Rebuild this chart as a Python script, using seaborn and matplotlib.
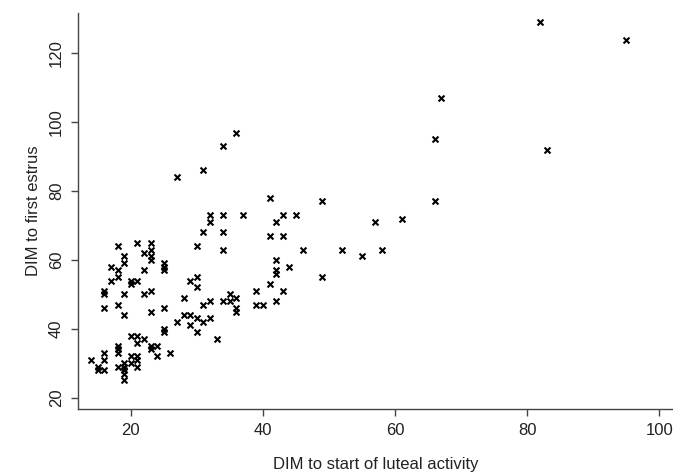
import matplotlib
matplotlib.use("Agg")
import matplotlib.pyplot as plt
import seaborn as sns
import pandas as pd

# DATA (DIM to start of luteal activity, DIM to first estrus)
luteal_start = [
    18, 21, 23, 22, 23, 23, 23, 19, 19, 17, 18, 18, 17, 22, 25, 25, 25, 20, 20, 21,
    16, 16, 19, 22, 23, 16, 18, 19, 23, 25, 27, 25, 25, 20, 21, 22, 21, 23, 24, 23,
    18, 18, 18, 16, 16, 14, 20, 21, 21, 20, 21, 24, 26, 15, 15, 16, 18, 19, 19, 19,
    19, 19,
    31, 34, 30, 34, 29, 30, 30, 28, 31, 32, 34, 35, 35, 36, 36, 36, 28, 29, 30, 31,
    32, 29, 30, 33,
    36, 34, 31, 27, 41, 49, 32, 34, 37, 43, 45, 32, 42, 41, 43, 46, 52, 42, 44, 42,
    42, 49, 41, 39, 43, 42, 39, 40,
    66, 57, 61, 55, 58, 83, 82, 95, 66, 67,
]
first_estrus = [
    64, 65, 65, 62, 63, 61, 60, 61, 59, 58, 57, 55, 54, 57, 59, 58, 57, 54, 53, 54,
    51, 50, 50, 50, 51, 46, 47, 44, 45, 46, 42, 40, 39, 38, 38, 37, 36, 35, 35, 34,
    35, 34, 33, 33, 31, 31, 32, 32, 31, 30, 29, 32, 33, 29, 28, 28, 29, 30, 29, 28,
    27, 25,
    68, 68, 64, 63, 54, 55, 52, 49, 47, 48, 48, 50, 48, 49, 46, 45, 44, 44, 43, 42,
    43, 41, 39, 37,
    97, 93, 86, 84, 78, 77, 73, 73, 73, 73, 73, 71, 71, 67, 67, 63, 63, 60, 58, 57,
    56, 55, 53, 51, 51, 48, 47, 47,
    77, 71, 72, 61, 63, 92, 129, 124, 95, 107,
]
x_ticks = [20, 40, 60, 80, 100]
y_ticks = [20, 40, 60, 80, 100, 120]

df = pd.DataFrame({"luteal": luteal_start, "estrus": first_estrus})

sns.set_style("white")
plt.rcParams["font.family"] = ["Liberation Sans", "DejaVu Sans"]

fig = plt.figure(figsize=(6.73, 4.73), dpi=100)
ax = fig.add_axes([78 / 673, 1 - 409 / 473, 1 - 78 / 673, (409 - 12.7) / 473])

sns.scatterplot(data=df, x="luteal", y="estrus", ax=ax, marker="x",
                color="black", s=18, linewidth=1.5)

ax.set_xlim(12.0, 102.1)
ax.set_ylim(16.7, 131.8)
ax.set_xticks(x_ticks)
ax.set_yticks(y_ticks)
ax.set_yticklabels([str(v) for v in y_ticks], rotation=90, va="center")

for side in ["top", "right"]:
    ax.spines[side].set_visible(False)
for side in ["left", "bottom"]:
    ax.spines[side].set_color("#444444")
    ax.spines[side].set_linewidth(1.0)

ax.tick_params(axis="both", direction="out", length=5, width=1, color="#444444",
               labelsize=12, labelcolor="#222222", pad=5, left=True, bottom=True)

ax.set_xlabel("DIM to start of luteal activity", fontsize=12, color="#222222", labelpad=14)
ax.set_ylabel("DIM to first estrus", fontsize=12, color="#222222", labelpad=6)

fig.savefig("out.png", dpi=100)
plt.close(fig)
